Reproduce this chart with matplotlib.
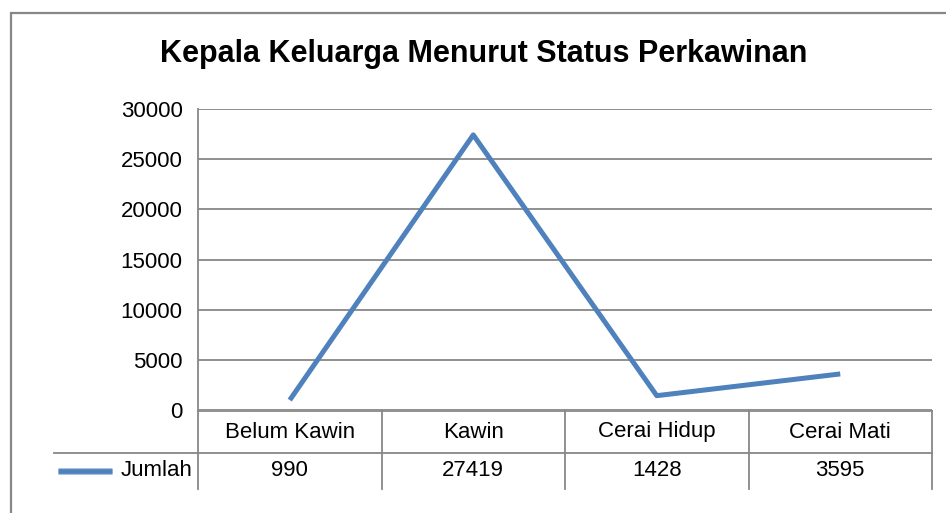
import matplotlib
matplotlib.use('Agg')
import matplotlib.pyplot as plt
from matplotlib.patches import Rectangle
from matplotlib.lines import Line2D

# data
kategori = ['Belum Kawin', 'Kawin', 'Cerai Hidup', 'Cerai Mati']
jumlah = [990, 27419, 1428, 3595]
nama_seri = 'Jumlah'
judul = 'Kepala Keluarga Menurut Status Perkawinan'
y_ticks = [0, 5000, 10000, 15000, 20000, 25000, 30000]

W, H = 946, 513
BIRU = '#4F81BD'
ABU = '#878787'
plt.rcParams['font.family'] = ['Liberation Sans', 'DejaVu Sans']

fig = plt.figure(figsize=(W / 100, H / 100), dpi=100)
fig.patch.set_facecolor('white')

# outer chart border
fig.patches.append(Rectangle((11 / W, -0.1), 1.0, 1 - 13 / H + 0.1,
                             transform=fig.transFigure, fill=False,
                             edgecolor=ABU, linewidth=1.6))

ax = fig.add_axes([198 / W, (H - 410) / H, (932 - 198) / W, (410 - 109) / H])
x = list(range(len(kategori)))
ax.plot(x, jumlah, color=BIRU, linewidth=3.6, solid_capstyle='butt')
ax.set_xlim(-0.5, len(kategori) - 0.5)
ax.set_ylim(0, 30000)
ax.set_yticks(y_ticks)
ax.set_yticklabels([str(v) for v in y_ticks], fontsize=16)
ax.tick_params(axis='y', length=0, pad=11)
ax.set_xticks([])
ax.grid(axis='y', color=ABU, linewidth=1.3)
ax.set_axisbelow(True)
for s in ['top', 'right', 'bottom']:
    ax.spines[s].set_visible(False)
ax.spines['left'].set_color(ABU)
ax.spines['left'].set_linewidth(1.3)

fig.text(484 / W, 1 - 54 / H, judul, ha='center', va='center',
         fontsize=22, fontweight='bold')

# data table under the axis
tr = ax.get_xaxis_transform()
px = 1.0 / (410 - 109)
y_top = -1 * px
y_mid = -(453 - 410) * px
y_bot = -(489 - 410) * px
ax.plot([-0.5, len(kategori) - 0.5], [y_top, y_top], transform=tr,
        color=ABU, linewidth=1.3, clip_on=False)
x_leg = -0.5 - (198 - 54) / ((932 - 198) / len(kategori))
ax.plot([x_leg, len(kategori) - 0.5], [y_mid, y_mid], transform=tr,
        color=ABU, linewidth=1.3, clip_on=False)
for i in range(len(kategori) + 1):
    ax.plot([i - 0.5, i - 0.5], [y_top, y_bot], transform=tr,
            color=ABU, linewidth=1.3, clip_on=False)
for i, (k, v) in enumerate(zip(kategori, jumlah)):
    ax.text(i, -(432 - 410) * px, k, transform=tr, ha='center',
            va='center', fontsize=16)
    ax.text(i, -(471 - 410) * px, str(v), transform=tr, ha='center',
            va='center', fontsize=16)

# legend key in the table
unit = (932 - 198) / len(kategori)
xa = -0.5 - (198 - 58) / unit
xb = -0.5 - (198 - 112) / unit
ax.add_line(Line2D([xa, xb], [-(471 - 410) * px] * 2, transform=tr,
                   color='#A7C0DE', linewidth=5, clip_on=False,
                   solid_capstyle='butt'))
ax.add_line(Line2D([xa, xb], [-(471 - 410) * px] * 2, transform=tr,
                   color=BIRU, linewidth=3.4, clip_on=False,
                   solid_capstyle='butt'))
ax.text(-0.5 - 5 / unit, -(471 - 410) * px, nama_seri, transform=tr,
        ha='right', va='center', fontsize=16)

fig.savefig('out.png', dpi=100)
